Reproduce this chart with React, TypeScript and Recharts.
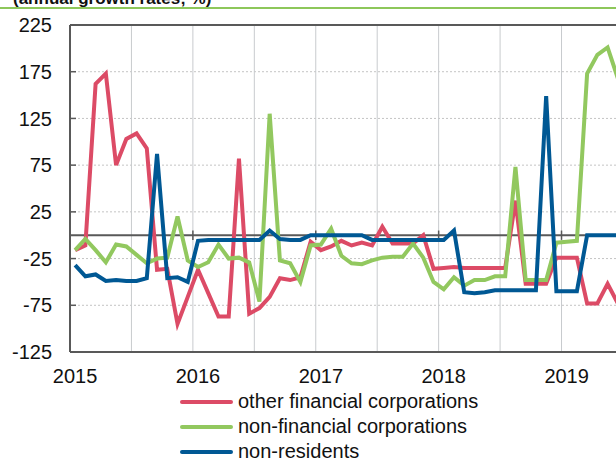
import { LineChart, Line, XAxis, YAxis, CartesianGrid, ReferenceLine } from 'recharts';

// monthly annual growth rates, Jan 2015 onwards
const years = ['2015', '2016', '2017', '2018', '2019'];
const yTicks = [-125, -75, -25, 25, 75, 125, 175, 225];

const otherFinancial = [
  -16, -11, 162, 173, 75, 103, 109, 93, -37, -36, -95, -66,
  -37, -62, -87, -87, 82, -84, -78, -66, -46, -48, -45, -7,
  -16, -12, -6, -11, -8, -11, 9, -9, -9, -9, 0, -36,
  -35, -34, -35, -35, -35, -35, -35, 37, -52, -52, -52, -24,
  -24, -24, -73, -73, -52, -73,
];
const nonFinancial = [
  -16, -4, -16, -29, -10, -12, -21, -30, -25, -24, 20, -27,
  -34, -29, -10, -25, -24, -29, -71, 130, -27, -30, -50, -11,
  -10, 7, -22, -30, -31, -27, -24, -23, -23, -9, -24, -50,
  -58, -45, -54, -48, -48, -44, -44, 73, -48, -48, -48, -8,
  -7, -6, 173, 193, 201, 168,
];
const nonResidents = [
  -32, -44, -42, -49, -48, -49, -49, -46, 87, -46, -45, -50,
  -6, -5, -5, -5, -5, -5, -5, 5, -4, -5, -5, 0,
  0, 0, 0, 0, 0, -5, -5, -5, -5, -5, -5, -5,
  -5, 5, -61, -62, -61, -59, -59, -59, -59, -59, 149, -60,
  -60, -60, 0, 0, 0, 0,
];

const series = [
  { key: 'ofc', name: 'other financial corporations', color: '#dc4b66' },
  { key: 'nfc', name: 'non-financial corporations', color: '#92c85f' },
  { key: 'nr', name: 'non-residents', color: '#005894' },
];

// x = months since Jan 2015, points sit mid-month
const data = otherFinancial.map((v, i) => ({
  t: i + 0.5,
  ofc: v,
  nfc: nonFinancial[i],
  nr: nonResidents[i],
}));

const yearTicks = years.map((_, k) => k * 12 + 0.5);
const halfYears = [6, 12, 18, 24, 30, 36, 42, 48, 54];
const yearStarts = [12, 24, 36, 48];

const FONT = 'Arial, "Liberation Sans", sans-serif';
const AXIS = '#595959';

const YTick = ({ x, y, payload }: any) => (
  <g>
    <text x={x} y={y} dy="0.36em" textAnchor="end" fontSize={20} fill="#111" fontFamily={FONT}>
      {payload.value}
    </text>
    <line x1={x + 18} x2={x + 24} y1={y} y2={y} stroke={AXIS} strokeWidth={1.5} />
  </g>
);

export default function App() {
  return (
    <div style={{
      position: 'absolute', left: 0, top: 0, width: 616, height: 459,
      overflow: 'hidden', background: '#fff', fontFamily: FONT,
    }}>
      <div style={{
        position: 'absolute', left: 13, top: -10, fontSize: 17, lineHeight: '17px',
        fontWeight: 700, whiteSpace: 'nowrap', color: '#111',
      }}>
        (annual growth rates; %)
      </div>
      <div style={{ position: 'absolute', left: 0, top: 6.5, width: 616, height: 2, background: '#8dc75a' }} />

      <div style={{ position: 'absolute', left: 0, top: 0 }}>
        <LineChart width={700} height={459} data={data}
          margin={{ top: 25, right: 15.6, bottom: 77, left: 0 }}>
          <CartesianGrid vertical={false} horizontalValues={yTicks}
            stroke="#c4c4c4" strokeDasharray="2 2" />
          <CartesianGrid horizontal={false} verticalValues={halfYears} stroke="#c8cbce" />
          <CartesianGrid vertical={false} horizontalValues={[0]} stroke={AXIS} strokeWidth={2} />
          <CartesianGrid vertical={false} horizontalValues={[225]} stroke={AXIS} strokeWidth={2} />
          <XAxis type="number" dataKey="t" domain={[0, 60]} ticks={yearTicks}
            tickFormatter={(v: number) => years[Math.round((v - 0.5) / 12)]}
            interval={0} height={30} tickLine={false} tickSize={0} tickMargin={17}
            axisLine={{ stroke: AXIS, strokeWidth: 2 }}
            tick={{ fontSize: 20, fill: '#111', fontFamily: FONT }} />
          <YAxis type="number" domain={[-125, 225]} ticks={yTicks} interval={0} width={70}
            tickLine={false} tickSize={0} tickMargin={18}
            axisLine={{ stroke: AXIS, strokeWidth: 2 }} tick={<YTick />} />
          {yearStarts.map((x) => (
            <ReferenceLine key={x} segment={[{ x, y: -5 }, { x, y: 5 }]} stroke={AXIS} strokeWidth={1.5} />
          ))}
          {series.map((s) => (
            <Line key={s.key} type="linear" dataKey={s.key} name={s.name} stroke={s.color}
              strokeWidth={4} dot={false} activeDot={false} isAnimationActive={false} />
          ))}
        </LineChart>
      </div>

      <div style={{ position: 'absolute', left: 180, top: 389 }}>
        {series.map((s) => (
          <div key={s.key} style={{ display: 'flex', alignItems: 'center', height: 25 }}>
            <div style={{ width: 53, height: 4, borderRadius: 2, background: s.color }} />
            <span style={{ marginLeft: 5, fontSize: 20, color: '#111', whiteSpace: 'nowrap' }}>{s.name}</span>
          </div>
        ))}
      </div>
    </div>
  );
}
